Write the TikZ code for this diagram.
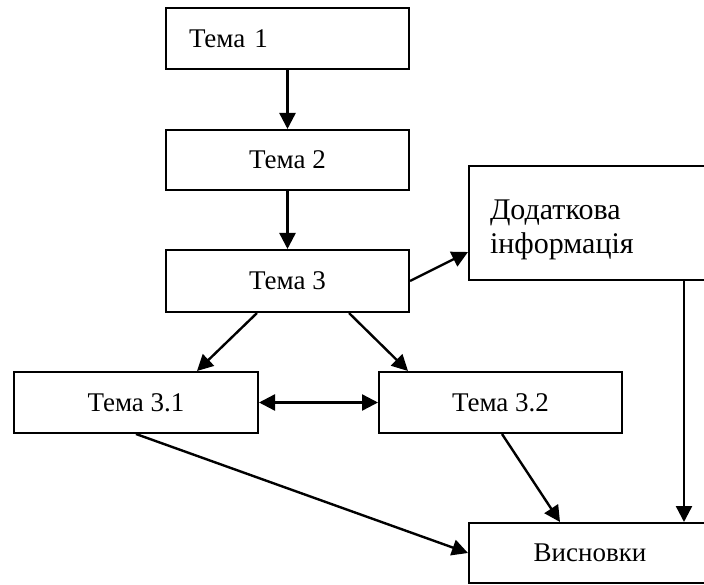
\documentclass[tikz,border=0pt]{standalone}
\usepackage{fontspec}
\setmainfont{Liberation Serif}
\usetikzlibrary{arrows.meta}
\begin{document}
\begin{tikzpicture}[x=1pt,y=-1pt,
  box/.style={draw, line width=2pt, rectangle, inner sep=0pt,
    font=\fontsize{27}{30}\selectfont},
  link/.style={line width=2.4pt, -{Triangle[length=16pt,width=16pt]}},
  twoway/.style={line width=2.4pt,
    {Triangle[length=16pt,width=16pt]}-{Triangle[length=16pt,width=16pt]}}]
\useasboundingbox (0,0) rectangle (704,585);

% topic boxes
\node[box, minimum width=243pt, minimum height=61pt, text width=197pt, align=left]
  (t1) at (287.5,38.5) {Тема 1};
\node[box, minimum width=243pt, minimum height=60pt] (t2) at (287.5,160) {Тема 2};
\node[box, minimum width=243pt, minimum height=62pt] (t3) at (287.5,281) {Тема 3};
\node[box, minimum width=244pt, minimum height=61pt] (t31) at (136,402.5) {Тема 3.1};
\node[box, minimum width=243pt, minimum height=61pt] (t32) at (500.5,402.5) {Тема 3.2};
\node[box, minimum width=242pt, minimum height=60pt] (vis) at (590,553) {Висновки};
\node[box, minimum width=242pt, minimum height=114pt, text width=200pt, align=left,
  font=\fontsize{30}{34}\selectfont]
  (dod) at (590,223) {\rule{0pt}{33pt}Додаткова\\інформація};

% connectors
\draw[link] (t1) -- (t2);
\draw[link] (t2) -- (t3);
\draw[link] (t3.east) -- ([yshift=-29pt]dod.west);
\draw[link] ([xshift=-30.5pt]t3.south) -- ([xshift=61pt]t31.north);
\draw[link] ([xshift=61.5pt]t3.south) -- ([xshift=-92.5pt]t32.north);
\draw[twoway] (t31) -- (t32);
\draw[link] (t31.south) -- (vis.west);
\draw[link] ([xshift=1.5pt]t32.south) -- ([xshift=-30pt]vis.north);
\draw[link] ([xshift=-28pt]dod.south east) -- ([xshift=-28pt]vis.north east);
\end{tikzpicture}
\end{document}
